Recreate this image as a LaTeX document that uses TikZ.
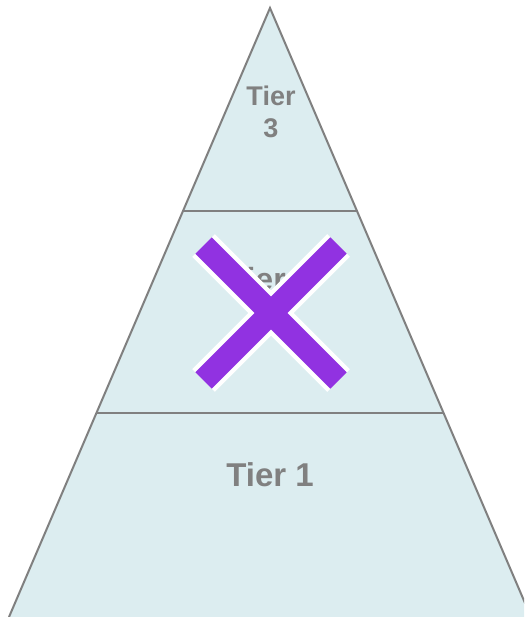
\documentclass[tikz,border=0pt]{standalone}
\usepackage{fontspec}
\setmainfont{Liberation Sans}
\definecolor{tierfill}{RGB}{220,237,240}
\definecolor{tierline}{RGB}{128,128,128}
\definecolor{tiertext}{RGB}{128,128,128}
\definecolor{xpurple}{RGB}{145,50,225}
\tikzset{
  edge/.style={draw=tierline, line width=2pt},
  tierlabel/.style={text=tiertext, font=\bfseries, anchor=base, inner sep=0pt},
  xout/.style={draw=white, line width=32pt, line cap=butt},
  xin/.style={draw=xpurple, line width=23pt, line cap=butt}
}
\begin{document}
\begin{tikzpicture}[x=1pt,y=-1pt]
\useasboundingbox (0,0) rectangle (524,617);
\clip (0,0) rectangle (524,617);
\coordinate (apex) at (270,8);
\coordinate (bl) at (9,617);
\coordinate (br) at (531,617);
\coordinate (l2) at (183.5,211);
\coordinate (r2) at (357,211);
\coordinate (l1) at (97,413);
\coordinate (r1) at (443.5,413);
\fill[tierfill] (apex) -- (bl) -- (br) -- cycle;
\draw[edge] (l2) -- (r2);
\draw[edge] (l1) -- (r1);
\draw[edge] (bl) -- (apex) -- (br);
\node[tierlabel, font=\bfseries\fontsize{27}{32}\selectfont, align=center, anchor=center] (t3) at (271,112) {Tier\\3};
\node[tierlabel, font=\bfseries\fontsize{32}{36}\selectfont] (t2) at (270,290) {Tier 2};
\node[tierlabel, font=\bfseries\fontsize{33}{36}\selectfont] (t1) at (270,486) {Tier 1};
\coordinate (xa) at (203.5,245.5);
\coordinate (xb) at (338.5,380.5);
\coordinate (xc) at (338.5,245.5);
\coordinate (xd) at (203.5,380.5);
\draw[xout] (xa) -- (xb);
\draw[xout] (xc) -- (xd);
\draw[xin] (xa) -- (xb);
\draw[xin] (xc) -- (xd);
\end{tikzpicture}
\end{document}
